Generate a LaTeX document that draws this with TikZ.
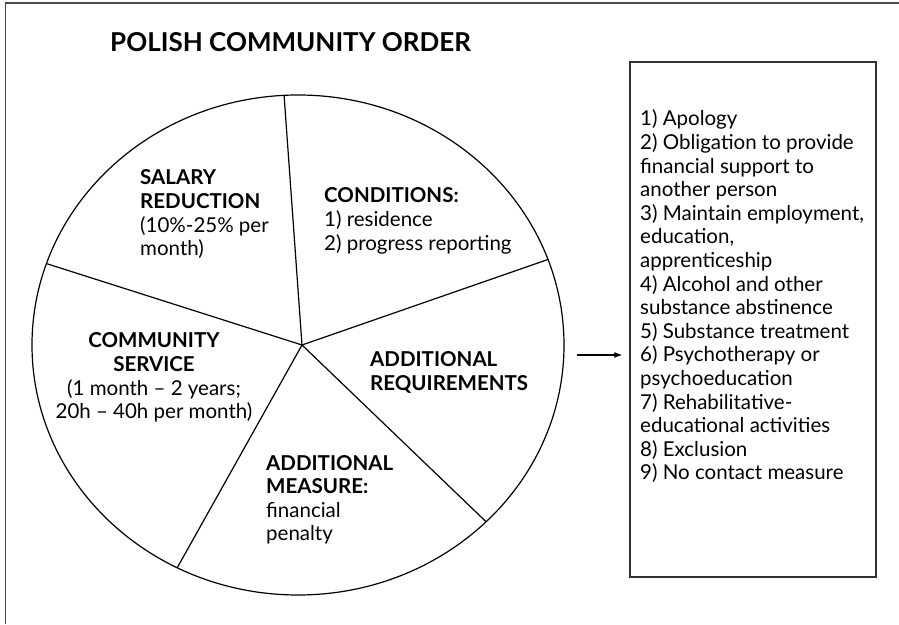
\documentclass[tikz,border=0pt]{standalone}
\usepackage{fontspec}
\setmainfont{Lato}
\usetikzlibrary{arrows.meta}

\newcommand{\hd}[1]{\textbf{#1}}

\begin{document}
\begin{tikzpicture}[x=1pt, y=1pt,
    every node/.style={inner sep=0pt, font=\fontsize{20.5}{23.6}\selectfont},
    txt/.style={align=left, anchor=base west},
    frame/.style={draw=black!70, line width=1.5pt},
    slice/.style={line width=1.2pt},
    listbox/.style={draw=black!80, line width=1.3pt, minimum width=246, minimum height=515}]

  \useasboundingbox (0,0) rectangle (899,624);
  % page frame, open at right and bottom
  \draw[frame] (5.5,0) -- (5.5,621) -- (899,621);

  \node[font=\fontsize{26}{30}\selectfont\bfseries, anchor=base west] (title) at (110,572) {POLISH COMMUNITY ORDER};

  % the pie: ellipse plus five spokes
  \coordinate (pie) at (298,279);
  \coordinate (hub) at (302,279);
  \draw[slice] (pie) ellipse [x radius=266, y radius=250];
  \foreach \t in {93,161,-117,-45,20}
    \draw[slice] (hub) -- ([shift={(\t:266 and 250)}]pie);

  % labels sit on the baseline of their last line
  \node[txt] (salary) at (140,368.2) {\hd{SALARY}\\\hd{REDUCTION}\\(10\%-25\% per\\month)};
  \node[txt] (conditions) at (324,373.8) {\hd{CONDITIONS:}\\1) residence\\2) progress reporting};
  \node[txt, align=center, anchor=base] (service) at (154,205.2) {\hd{COMMUNITY}\\\hd{SERVICE}\\(1 month -- 2 years;\\20h -- 40h per month)};
  \node[txt] (requirements) at (370,233.4) {\hd{ADDITIONAL}\\\hd{REQUIREMENTS}};
  \node[txt] (measure) at (266,83.2) {\hd{ADDITIONAL}\\\hd{MEASURE:}\\financial\\penalty};

  % requirements list
  \node[listbox] (reqbox) at (753,304.5) {};
  \node[txt] (reqlist) at (640,144) {1) Apology\\2) Obligation to provide\\financial support to\\another person\\3) Maintain employment,\\education,\\apprenticeship\\4) Alcohol and other\\substance abstinence\\5) Substance treatment\\6) Psychotherapy or\\psychoeducation\\7) Rehabilitative-\\educational activities\\8) Exclusion\\9) No contact measure};

  \coordinate (arrowtail) at (577,269);
  \draw[-{Latex[length=8pt,width=6pt]}, line width=1.2pt, shorten >=7pt] (arrowtail) -- (reqbox.west |- arrowtail);
\end{tikzpicture}
\end{document}
